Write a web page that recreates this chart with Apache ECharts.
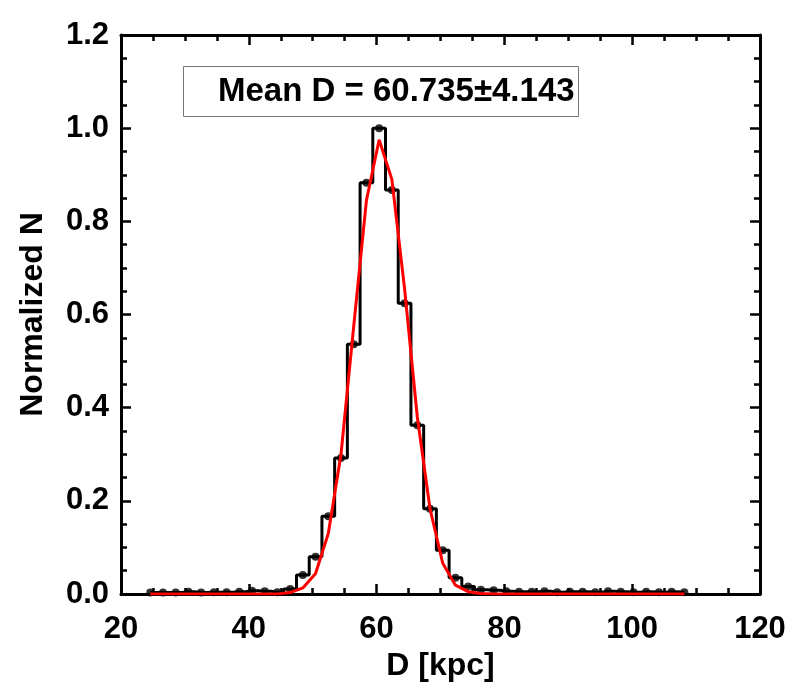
<!DOCTYPE html>
<html><head><meta charset="utf-8">
<script src="https://cdn.jsdelivr.net/npm/echarts@6/dist/echarts.min.js"></script>
<style>html,body{margin:0;padding:0;background:#fff}#c{width:800px;height:700px}</style>
</head><body><div id="c"></div>
<script>
// Bin centres of the histogram (D in kpc)
const binCenters = [24.58, 26.57, 28.56, 30.55, 32.54, 34.53, 36.52, 38.51, 40.50, 42.49,
  44.48, 46.47, 48.46, 50.45, 52.44, 54.43, 56.42, 58.41, 60.40, 62.39,
  64.38, 66.37, 68.36, 70.35, 72.34, 74.33, 76.32, 78.31, 80.30, 82.29,
  84.28, 86.27, 88.26, 90.25, 92.24, 94.23, 96.22, 98.21, 100.20, 102.19,
  104.18, 106.17, 108.16];
// Normalized histogram counts
const histValues = [0.003, 0.003, 0.003, 0.005, 0.003, 0.004, 0.004, 0.005, 0.007, 0.006,
  0.004, 0.011, 0.041, 0.080, 0.167, 0.292, 0.536, 0.883, 1.000, 0.867,
  0.624, 0.362, 0.183, 0.094, 0.035, 0.016, 0.009, 0.008, 0.006, 0.005,
  0.005, 0.006, 0.004, 0.005, 0.005, 0.004, 0.006, 0.005, 0.004, 0.005,
  0.004, 0.005, 0.004];
// Gaussian fit (red curve)
const fitValues = [0, 0, 0, 0, 0, 0, 0, 0, 0, 0,
  0, 0.003, 0.013, 0.044, 0.130, 0.300, 0.575, 0.845, 0.975, 0.890,
  0.655, 0.380, 0.183, 0.066, 0.019, 0.005, 0.001, 0, 0, 0,
  0, 0, 0, 0, 0, 0, 0, 0, 0, 0,
  0, 0, 0];
const xTickValues = [20, 40, 60, 80, 100, 120];
const yTickValues = [0.0, 0.2, 0.4, 0.6, 0.8, 1.0, 1.2];
const xTitle = 'D [kpc]';
const yTitle = 'Normalized N';
const meanLabel = 'Mean D = 60.735\u00b14.143';

const FONT = '"Liberation Sans", Arial, Helvetica, sans-serif';
const histData = binCenters.map((x, i) => [x, histValues[i]]);
const fitData = binCenters.map((x, i) => [x, fitValues[i]]);

function axisCommon(showLabel) {
  return {
    axisLine: {show: true, onZero: false, lineStyle: {color: '#000', width: 3}},
    axisTick: {show: true, inside: true, length: 10, lineStyle: {color: '#000', width: 2.5}},
    minorTick: {show: true, splitNumber: 4, length: 6, lineStyle: {color: '#000', width: 2.5}},
    splitLine: {show: false},
    minorSplitLine: {show: false},
    axisLabel: {show: showLabel, color: '#000', fontFamily: FONT, fontWeight: 'bold', fontSize: 31}
  };
}

const xMin = xTickValues[0], xMax = xTickValues[xTickValues.length - 1];
const xInt = xTickValues[1] - xTickValues[0];
const yMin = yTickValues[0], yMax = yTickValues[yTickValues.length - 1];
const yInt = 0.2;

const xMain = axisCommon(true);
xMain.axisLabel.margin = 20;
const yMain = axisCommon(true);
yMain.axisLabel.margin = 12;
yMain.axisLabel.formatter = v => Number(v).toFixed(1);

const chart = echarts.init(document.getElementById('c'), null, {renderer: 'canvas'});
chart.setOption({
  animation: false,
  backgroundColor: '#fff',
  grid: {left: 121, right: 40, top: 35, bottom: 106, containLabel: false},
  xAxis: [
    Object.assign(xMain, {
      type: 'value', min: xMin, max: xMax, interval: xInt, position: 'bottom',
      name: xTitle, nameLocation: 'middle', nameGap: 53,
      nameTextStyle: {color: '#000', fontFamily: FONT, fontWeight: 'bold', fontSize: 32}
    }),
    Object.assign(axisCommon(false), {
      type: 'value', min: xMin, max: xMax, interval: xInt, position: 'top'
    })
  ],
  yAxis: [
    Object.assign(yMain, {
      type: 'value', min: yMin, max: yMax, interval: yInt, position: 'left',
      name: yTitle, nameLocation: 'middle', nameGap: 72, nameRotate: 90,
      nameTextStyle: {color: '#000', fontFamily: FONT, fontWeight: 'bold', fontSize: 32}
    }),
    Object.assign(axisCommon(false), {
      type: 'value', min: yMin, max: yMax, interval: yInt, position: 'right'
    })
  ],
  series: [
    {
      type: 'line', step: 'middle', data: histData, showSymbol: false,
      lineStyle: {color: '#000', width: 3}, itemStyle: {color: '#000'}, z: 2
    },
    {
      type: 'scatter', data: histData, symbol: 'circle', symbolSize: 8,
      itemStyle: {color: '#000'}, z: 3
    },
    {
      type: 'line', data: fitData, showSymbol: false, smooth: false,
      lineStyle: {color: '#ff0000', width: 3}, itemStyle: {color: '#ff0000'}, z: 4
    }
  ],
  graphic: [
    {
      type: 'rect', left: 183, top: 66, z: 10,
      shape: {width: 395, height: 50},
      style: {fill: '#fff', stroke: '#777', lineWidth: 1}
    },
    {
      type: 'text', x: 218, y: 92, z: 11,
      style: {text: meanLabel, fill: '#000', font: 'bold 33px ' + FONT, verticalAlign: 'middle', align: 'left'}
    }
  ]
});
</script></body></html>
